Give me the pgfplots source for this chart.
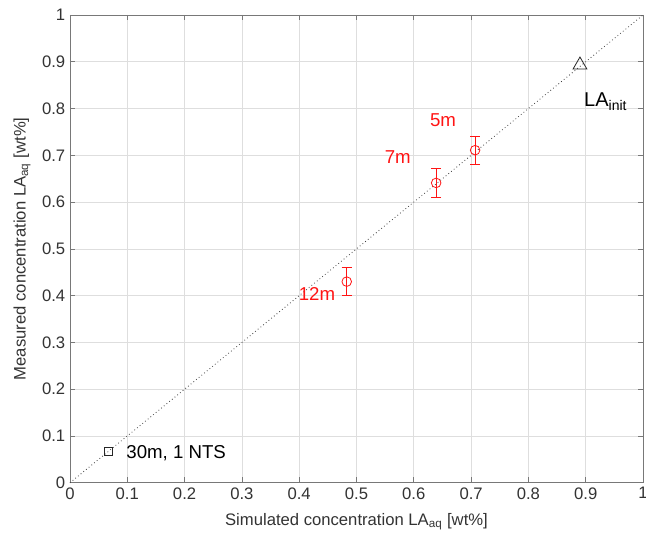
\documentclass[border=0pt]{standalone}
\usepackage{pgfplots}
\pgfplotsset{compat=1.18}
\usepackage{fontspec}
\setmainfont{Liberation Sans}
\definecolor{mred}{RGB}{255,20,20}
\definecolor{mgrid}{RGB}{222,222,222}
\definecolor{mbox}{RGB}{120,120,120}
\begin{document}
\begin{tikzpicture}
\begin{axis}[
  width=430pt, height=351pt, scale only axis,
  xmin=0, xmax=1, ymin=0, ymax=1,
  xtick={0,0.1,...,1}, ytick={0,0.1,...,1},
  xticklabels={0,0.1,0.2,0.3,0.4,0.5,0.6,0.7,0.8,0.9,1},
  yticklabels={0,0.1,0.2,0.3,0.4,0.5,0.6,0.7,0.8,0.9,1},
  tick align=inside, major tick length=4pt,
  tick style={mbox, line width=0.5pt},
  axis line style={mbox, line width=0.6pt},
  grid=major, grid style={mgrid, line width=0.5pt},
  ticklabel style={font=\fontsize{12.5}{13}\selectfont, text=black!80},
  /pgf/number format/assume math mode=true,
  xlabel={Simulated concentration LA\textsubscript{aq} [wt\%]},
  ylabel={Measured concentration LA\textsubscript{aq} [wt\%]},
  label style={font=\fontsize{12.5}{13}\selectfont, text=black!80},
  xlabel style={at={(axis description cs:0.5,0)}, anchor=center, yshift=-29pt},
  ylabel style={at={(axis description cs:0,0.5)}, anchor=center, yshift=36pt},
  clip=false,
]
\addplot[black!75, dotted, line width=0.6pt] coordinates {(0,0) (1,1)};
\addplot[only marks, mark=o, mark size=3.6pt, color=mred, line width=0.6pt,
  error bars/.cd, y dir=both, y explicit,
  error bar style={mred, line width=0.6pt},
  error mark options={rotate=90, mark size=3.8pt, mred, line width=0.6pt}]
  coordinates {(0.707,0.711) +- (0,0.03)
               (0.639,0.641) +- (0,0.03)
               (0.483,0.430) +- (0,0.03)};
\addplot[only marks, mark=square, mark size=3pt, black!85, line width=0.6pt]
  coordinates {(0.067,0.067)};
\addplot[only marks, mark=triangle, mark size=6pt, black!85, line width=0.6pt]
  coordinates {(0.890,0.893)};
\node[mred, font=\fontsize{14}{15}\selectfont] at (axis cs:0.651,0.776) {5m};
\node[mred, font=\fontsize{14}{15}\selectfont] at (axis cs:0.572,0.697) {7m};
\node[mred, font=\fontsize{14}{15}\selectfont] at (axis cs:0.431,0.404) {12m};
\node[anchor=west, font=\fontsize{14}{15}\selectfont, inner sep=0pt] at (axis cs:0.098,0.064) {30m, 1 NTS};
\node[anchor=west, font=\fontsize{15}{16}\selectfont, inner sep=0pt] at (axis cs:0.897,0.815) {LA\textsubscript{init}};
\coordinate (bl) at (rel axis cs:0,0);
\coordinate (tr) at (rel axis cs:1,1);
\end{axis}
\pgfresetboundingbox
\useasboundingbox ([xshift=-52.5pt,yshift=-39.75pt]bl) rectangle ([xshift=2.25pt,yshift=11.25pt]tr);
\end{tikzpicture}
\end{document}
